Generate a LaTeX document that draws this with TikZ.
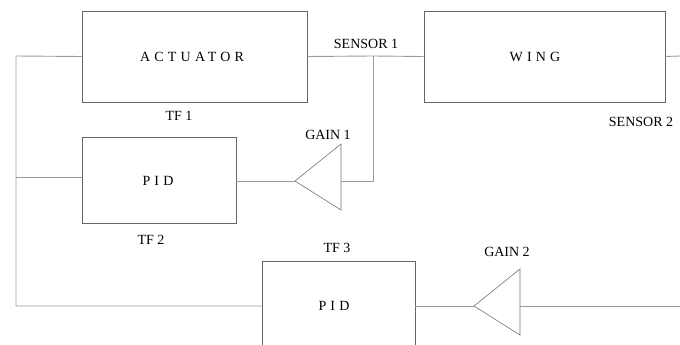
\documentclass[tikz,border=0pt]{standalone}
\usepackage{fontspec}
\setmainfont{Liberation Serif}
\newfontfamily\spacedfont[LetterSpace=30]{Liberation Serif}
\begin{document}
\begin{tikzpicture}[x=1pt,y=-1pt,
  blk/.style={draw=black!60, line width=0.8pt, inner sep=0pt},
  wire/.style={draw=black!40, line width=0.9pt},
  tri/.style={draw=black!55, line width=0.6pt},
  lbl/.style={inner sep=0pt, font=\fontsize{14}{16}\selectfont},
  sp/.style={inner sep=0pt, font=\fontsize{14}{16}\selectfont\spacedfont}]
\useasboundingbox (0,0) rectangle (680,345);
% boxes
\node[blk, minimum width=225pt, minimum height=91pt] (act) at (194.5,56.5) {};
\node[blk, minimum width=241pt, minimum height=91pt] (wing) at (544.5,56.5) {};
\node[blk, minimum width=154pt, minimum height=86pt] (pid1) at (159,180) {};
\node[blk, minimum width=153pt, minimum height=130pt] (pid2) at (338.5,326) {};
% box texts
\node[sp] (acttxt) at (192,57) {ACTUATOR};
\node[sp] (wingtxt) at (535,57) {WING};
\node[sp] (pid1txt) at (158,181) {PID};
\node[sp] (pid2txt) at (334,306) {PID};
% labels
\node[lbl] (tf1) at (179,116) {TF 1};
\node[lbl] (tf2) at (151,240) {TF 2};
\node[lbl] (tf3) at (337,248) {TF 3};
\node[lbl] (s1) at (366,44) {SENSOR 1};
\node[lbl] (s2) at (641,122) {SENSOR 2};
\node[lbl] (g1l) at (328,135) {GAIN 1};
\node[lbl] (g2l) at (507,252) {GAIN 2};
% gain triangles
\coordinate (g1tip) at (295,181);
\coordinate (g1top) at (341,144);
\coordinate (g1bot) at (341,210);
\coordinate (g1in) at (341,181);
\draw[tri] (g1tip) -- (g1top) -- (g1bot) -- cycle;
\coordinate (g2tip) at (474,306);
\coordinate (g2top) at (520,269);
\coordinate (g2bot) at (520,335);
\coordinate (g2in) at (520,306);
\draw[tri] (g2tip) -- (g2top) -- (g2bot) -- cycle;
% junctions and ends
\coordinate (tap) at (373,56);
\coordinate (tapdn) at (373,181);
\coordinate (lt) at (16,56);
\coordinate (lm) at (16,177);
\coordinate (lb) at (16,306);
\coordinate (rend) at (680,56);
\coordinate (rend2) at (680,306);
% wires
\draw[wire] (act.east) -- (tap) -- (wing.west);
\draw[wire] (wing.east) -- (rend);
\draw[wire] (tap) -- (tapdn) -- (g1in);
\draw[wire] (pid1.east |- g1tip) -- (g1tip);
\draw[wire] (act.west) -- (lt) -- (lb) -- (pid2.west |- lb);
\draw[wire] (lm) -- (pid1.west |- lm);
\draw[wire] (pid2.east |- g2tip) -- (g2tip);
\draw[wire] (g2in) -- (rend2);
\end{tikzpicture}
\end{document}
